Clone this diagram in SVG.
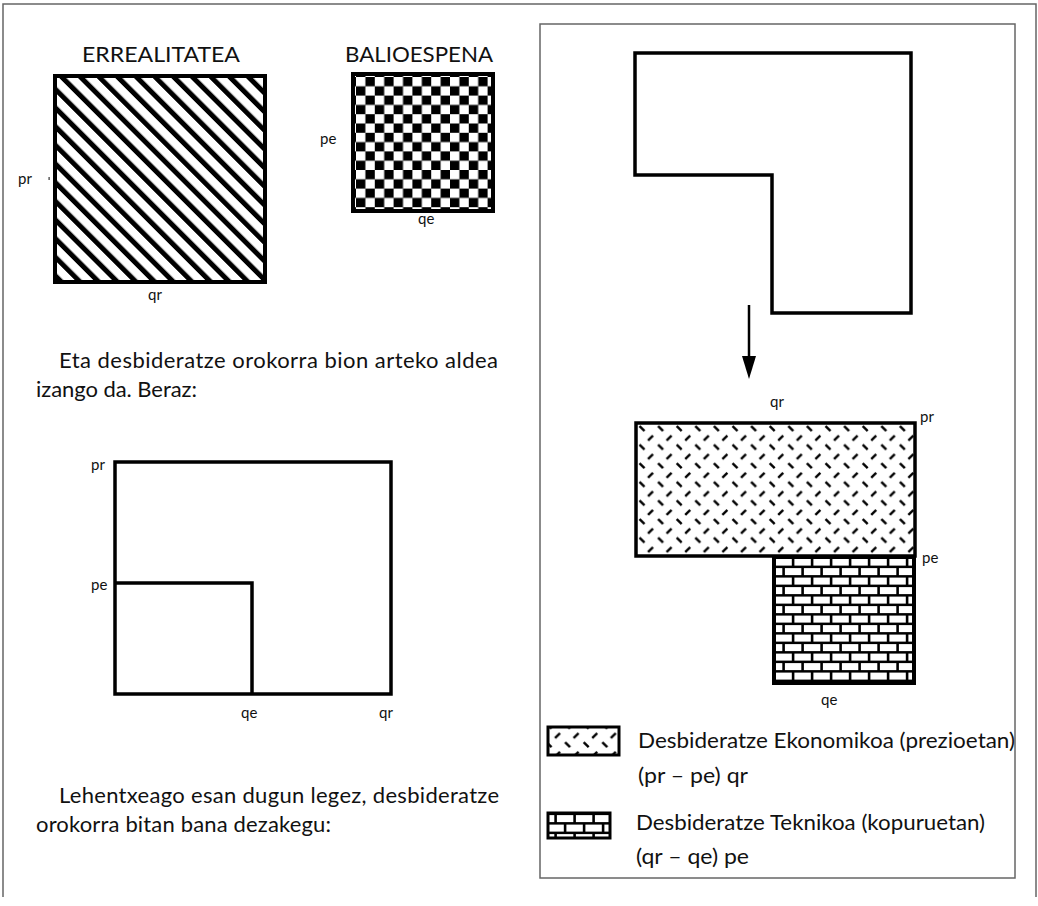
<svg xmlns="http://www.w3.org/2000/svg" width="1038" height="906" viewBox="0 0 1038 906">
<style>
text{font-family:"Lato","Liberation Sans",sans-serif;fill:#111}
.lbl{font-size:15px}
.ttl{font-size:21px}
.par{font-size:22px}
.leg{font-size:21.5px}
.thick{fill:none;stroke:#000;stroke-width:3.5}
.box{stroke:#000;stroke-width:4}
.frame{fill:none;stroke:#666;stroke-width:1.5}
</style>
<defs>
<pattern id="stripes" patternUnits="userSpaceOnUse" width="13.2" height="13.2" patternTransform="rotate(-45)">
<rect width="13.2" height="13.2" fill="#fff"/>
<rect width="5" height="13.2" fill="#000"/>
</pattern>
<pattern id="checker" patternUnits="userSpaceOnUse" x="356" y="77" width="18.8" height="18.6">
<rect width="18.8" height="18.6" fill="#000"/>
<rect width="9.4" height="9.3" fill="#fff"/>
<rect x="9.4" y="9.3" width="9.4" height="9.3" fill="#fff"/>
</pattern>
<pattern id="hatch" patternUnits="userSpaceOnUse" x="636" y="423" width="18.6" height="18.6">
<rect width="18.6" height="18.6" fill="#fff"/>
<path d="M3.5 3 L8.5 8 M12 17.5 L17 12.5" stroke="#000" stroke-width="2.4" fill="none"/>
</pattern>
<pattern id="brick" patternUnits="userSpaceOnUse" x="774" y="557" width="19" height="19">
<rect width="19" height="19" fill="#000"/>
<rect x="1.4" y="1.6" width="16.4" height="7" fill="#fff"/>
<rect x="-8.1" y="11.1" width="16.4" height="7" fill="#fff"/>
<rect x="10.9" y="11.1" width="16.4" height="7" fill="#fff"/>
</pattern>
<marker id="arrowhead" markerUnits="userSpaceOnUse" markerWidth="24" markerHeight="14" refX="2" refY="7" orient="auto" viewBox="0 0 24 14">
<path d="M0 0 L23 7 L0 14 Z" fill="#000"/>
</marker>
</defs>

<g id="page-frame">
<path class="frame" d="M3 897 L3 4 L1036 4 L1036 897"/>
<rect class="frame" x="540" y="24" width="475" height="854"/>
</g>

<g id="erealitatea">
<text class="ttl" x="82" y="62" textLength="158" lengthAdjust="spacingAndGlyphs">ERREALITATEA</text>
<rect class="box" x="55" y="76" width="210" height="206" fill="url(#stripes)"/>
<text class="lbl" x="18" y="184">pr</text>
<rect x="48.5" y="177" width="1.2" height="3" fill="#333"/>
<text class="lbl" x="148" y="300">qr</text>
</g>

<g id="balioespena">
<text class="ttl" x="345" y="62" textLength="148" lengthAdjust="spacingAndGlyphs">BALIOESPENA</text>
<rect class="box" x="353" y="74" width="140" height="137" fill="url(#checker)"/>
<text class="lbl" x="320" y="144">pe</text>
<text class="lbl" x="418" y="224">qe</text>
</g>

<g id="paragraph-1">
<text class="par" x="59" y="368" textLength="439" lengthAdjust="spacing">Eta desbideratze orokorra bion arteko aldea</text>
<text class="par" x="36" y="397" textLength="161" lengthAdjust="spacing">izango da. Beraz:</text>
</g>

<g id="comparison-diagram">
<rect class="thick" x="115" y="462" width="276" height="232"/>
<path class="thick" d="M115 583 L252 583 L252 694"/>
<text class="lbl" x="91" y="470">pr</text>
<text class="lbl" x="91" y="590">pe</text>
<text class="lbl" x="241" y="718">qe</text>
<text class="lbl" x="379" y="718">qr</text>
</g>

<g id="paragraph-2">
<text class="par" x="59" y="803" textLength="440" lengthAdjust="spacing">Lehentxeago esan dugun legez, desbideratze</text>
<text class="par" x="36" y="832" textLength="295" lengthAdjust="spacing">orokorra bitan bana dezakegu:</text>
</g>

<g id="l-shape">
<path class="thick" d="M635 53 L911 53 L911 313 L772 313 L772 175 L635 175 Z"/>
</g>

<g id="split-diagram">
<rect x="636" y="423" width="279" height="133" fill="url(#hatch)" stroke="#000" stroke-width="3.5"/>
<rect x="774" y="557" width="140" height="126" fill="url(#brick)" stroke="#000" stroke-width="4"/>
<text class="lbl" x="770" y="407">qr</text>
<text class="lbl" x="920" y="422">pr</text>
<text class="lbl" x="922" y="563">pe</text>
<text class="lbl" x="821" y="705">qe</text>
</g>

<g id="legend-economic">
<rect x="548" y="727" width="71" height="28" fill="url(#hatch)" stroke="#000" stroke-width="3"/>
<text class="leg" x="638" y="748" textLength="377" lengthAdjust="spacingAndGlyphs">Desbideratze Ekonomikoa (prezioetan)</text>
<text class="leg" x="638" y="783" textLength="110" lengthAdjust="spacingAndGlyphs">(pr – pe) qr</text>
</g>

<g id="legend-technical">
<rect x="548" y="813" width="62" height="25" fill="url(#brick)" stroke="#000" stroke-width="3"/>
<text class="leg" x="636" y="830" textLength="349" lengthAdjust="spacingAndGlyphs">Desbideratze Teknikoa (kopuruetan)</text>
<text class="leg" x="636" y="864" textLength="113" lengthAdjust="spacingAndGlyphs">(qr – qe) pe</text>
</g>

<g id="connectors">
<line x1="749" y1="305" x2="749" y2="358" stroke="#000" stroke-width="2.5" marker-end="url(#arrowhead)"/>
</g>
</svg>
